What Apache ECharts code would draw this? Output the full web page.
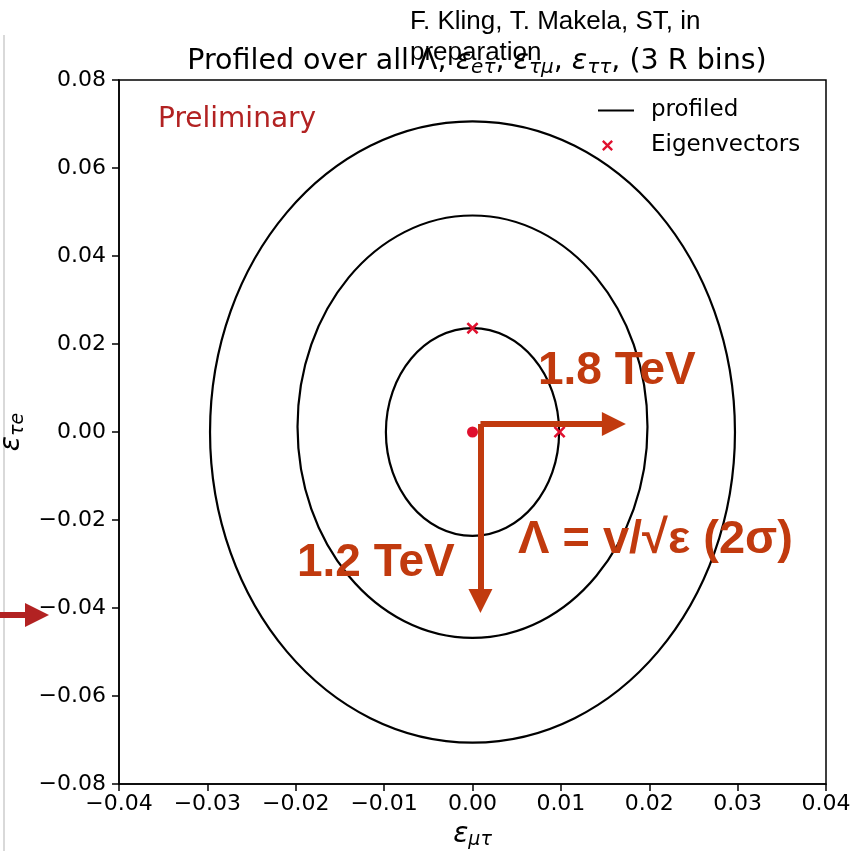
<!DOCTYPE html>
<html>
<head>
<meta charset="utf-8">
<script src="https://cdn.jsdelivr.net/npm/echarts@6/dist/echarts.min.js"></script>
<style>
  html, body { margin: 0; padding: 0; background: #fff; }
  #chart { width: 856px; height: 851px; }
</style>
</head>
<body>
<div id="chart"></div>
<script>
// contour ellipses (centre x, centre y, half-width, half-height)
const ellipseCx = [0, 0, 0]
const ellipseCy = [0, 0.0012, 0]
const ellipseHalfX = [0.0098, 0.0198, 0.0297]
const ellipseHalfY = [0.0236, 0.0480, 0.0706]

const eigenX = [0, 0.00985]
const eigenY = [0.0236, 0]
const bestFit = [0, 0]

const xTicks = [-0.04, -0.03, -0.02, -0.01, 0, 0.01, 0.02, 0.03, 0.04]
const yTicks = [-0.08, -0.06, -0.04, -0.02, 0, 0.02, 0.04, 0.06, 0.08]

// annotation arrows in data units: [start, end]
const arrowRight = [[0.0009, 0.0018], [0.0160, 0.0018]]
const arrowDown = [[0.0009, 0.0018], [0.0009, -0.0384]]

const ARROW = '#c13a0e'
const DARKRED = '#b22222'
const RED = '#e0102e'
const XMARK = 'path://M1.5,0 L5,3.5 L8.5,0 L10,1.5 L6.5,5 L10,8.5 L8.5,10 L5,6.5 L1.5,10 L0,8.5 L3.5,5 L0,1.5 Z'

const chart = echarts.init(document.getElementById('chart'))

const fmt = (v) => {
    if (Math.abs(v) < 1e-9) return '0.00'
    return (v < 0 ? '\u2212' : '') + Math.abs(v).toFixed(2)
}

const ellipseData = ellipseCx.map((c, i) => [c, ellipseCy[i], ellipseHalfX[i], ellipseHalfY[i]])

const mathRich = {
    it: { fontStyle: 'italic', fontSize: 28, fontFamily: 'DejaVu Sans', color: '#000' },
    sub: { fontStyle: 'italic', fontSize: 19, fontFamily: 'DejaVu Sans', color: '#000', padding: [12, 0, 0, 0] },
}

chart.setOption({
    backgroundColor: '#fff',
    animation: false,
    textStyle: { fontFamily: 'DejaVu Sans' },
    grid: {
        left: 119, right: 30, top: 80, bottom: 67,
        outerBoundsMode: 'none', containLabel: false,
        show: true, borderColor: '#000', borderWidth: 1.5,
    },
    title: {
        text: 'Profiled over all \u039b, {it|\u03b5}{sub|e\u03c4}, {it|\u03b5}{sub|\u03c4\u03bc}, {it|\u03b5}{sub|\u03c4\u03c4}, (3 R bins)',
        left: 472, top: 41, textAlign: 'center',
        textStyle: {
            fontSize: 28.5, fontWeight: 'normal', color: '#000', fontFamily: 'DejaVu Sans',
            rich: {
                it: { fontStyle: 'italic', fontSize: 28.5, fontFamily: 'DejaVu Sans', color: '#000' },
                sub: { fontStyle: 'italic', fontSize: 20, fontFamily: 'DejaVu Sans', color: '#000', padding: [12, 0, 0, 0] },
            },
        },
    },
    legend: [
        {
            data: ['profiled'], left: 598, top: 99, padding: 0,
            icon: 'rect', itemWidth: 36, itemHeight: 2,
            itemStyle: { color: '#000' },
            textStyle: { fontSize: 23, color: '#000', fontFamily: 'DejaVu Sans', padding: [0, 0, 0, 12] },
        },
        {
            data: ['Eigenvectors'], left: 602, top: 134, padding: 0,
            icon: XMARK, itemWidth: 11, itemHeight: 11,
            itemStyle: { color: RED, opacity: 1 },
            textStyle: { fontSize: 23, color: '#000', fontFamily: 'DejaVu Sans', padding: [0, 0, 0, 33] },
        },
    ],
    xAxis: {
        type: 'value', min: xTicks[0], max: xTicks[xTicks.length - 1], interval: 0.01,
        name: '{it|\u03b5}{sub|\u03bc\u03c4}', nameLocation: 'middle', nameGap: 35,
        nameTextStyle: { rich: mathRich, fontSize: 24 },
        splitLine: { show: false },
        axisLine: { onZero: false, lineStyle: { color: '#000', width: 1.5 } },
        axisTick: { inside: false, length: 7, lineStyle: { color: '#000', width: 1.5 } },
        axisLabel: { formatter: fmt, color: '#000', fontSize: 22, margin: 9, fontFamily: 'DejaVu Sans' },
    },
    yAxis: {
        type: 'value', min: yTicks[0], max: yTicks[yTicks.length - 1], interval: 0.02,
        name: '{it|\u03b5}{sub|\u03c4e}', nameLocation: 'middle', nameGap: 82, nameRotate: 90,
        nameTextStyle: { rich: mathRich, fontSize: 24 },
        splitLine: { show: false },
        axisLine: { onZero: false, lineStyle: { color: '#000', width: 1.5 } },
        axisTick: { inside: false, length: 7, lineStyle: { color: '#000', width: 1.5 } },
        axisLabel: { formatter: fmt, color: '#000', fontSize: 22, margin: 13, fontFamily: 'DejaVu Sans' },
    },
    series: [
        {
            name: 'profiled',
            type: 'custom',
            itemStyle: { color: '#000' },
            data: ellipseData,
            renderItem: (params, api) => {
                const c = api.coord([api.value(0), api.value(1)])
                const s = api.size([api.value(2), api.value(3)])
                return {
                    type: 'ellipse',
                    shape: { cx: c[0], cy: c[1], rx: s[0], ry: s[1] },
                    style: { fill: 'none', stroke: '#000', lineWidth: 2.2 },
                }
            },
            z: 2,
        },
        {
            name: 'Eigenvectors',
            type: 'scatter',
            symbol: XMARK,
            symbolSize: 12,
            itemStyle: { color: RED, opacity: 1 },
            data: eigenX.map((x, i) => [x, eigenY[i]]),
            z: 3,
        },
        {
            name: 'best fit',
            type: 'scatter',
            symbol: 'circle',
            symbolSize: 11,
            itemStyle: { color: RED, opacity: 1 },
            data: [bestFit],
            z: 3,
        },
        {
            name: 'arrows',
            type: 'line',
            data: [],
            markLine: {
                silent: true,
                symbol: ['none', 'triangle'],
                symbolSize: [24, 24],
                label: { show: false },
                lineStyle: { color: ARROW, width: 6, type: 'solid' },
                data: [
                    [{ coord: arrowRight[0] }, { coord: arrowRight[1] }],
                    [{ coord: arrowDown[0] }, { coord: arrowDown[1] }],
                    [
                        { x: 0, y: 615, lineStyle: { color: DARKRED } },
                        { x: 37, y: 615, itemStyle: { color: DARKRED } },
                    ],
                ],
            },
            z: 5,
        },
    ],
    graphic: [
        {
            type: 'line', shape: { x1: 4, y1: 35, x2: 4, y2: 851 },
            style: { stroke: '#d9d9d9', lineWidth: 2 },
        },
        {
            type: 'text', left: 410, top: 6,
            style: { text: 'F. Kling, T. Makela, ST, in\npreparation', font: '26px "Liberation Sans"', fill: '#000', lineHeight: 31 },
        },
        {
            type: 'text', left: 158, top: 106,
            style: { text: 'Preliminary', font: '28px "DejaVu Sans"', fill: DARKRED },
        },
        {
            type: 'text', left: 538, top: 348, z: 10,
            style: { text: '1.8 TeV', font: 'bold 46px "Liberation Sans"', fill: ARROW },
        },
        {
            type: 'text', left: 297, top: 540, z: 10,
            style: { text: '1.2 TeV', font: 'bold 46px "Liberation Sans"', fill: ARROW },
        },
        {
            type: 'text', left: 518, top: 517, z: 10,
            style: { text: '\u039b = v/\u221a\u03b5 (2\u03c3)', font: 'bold 47px "Liberation Sans"', fill: ARROW },
        },
    ],
})
</script>
</body>
</html>
